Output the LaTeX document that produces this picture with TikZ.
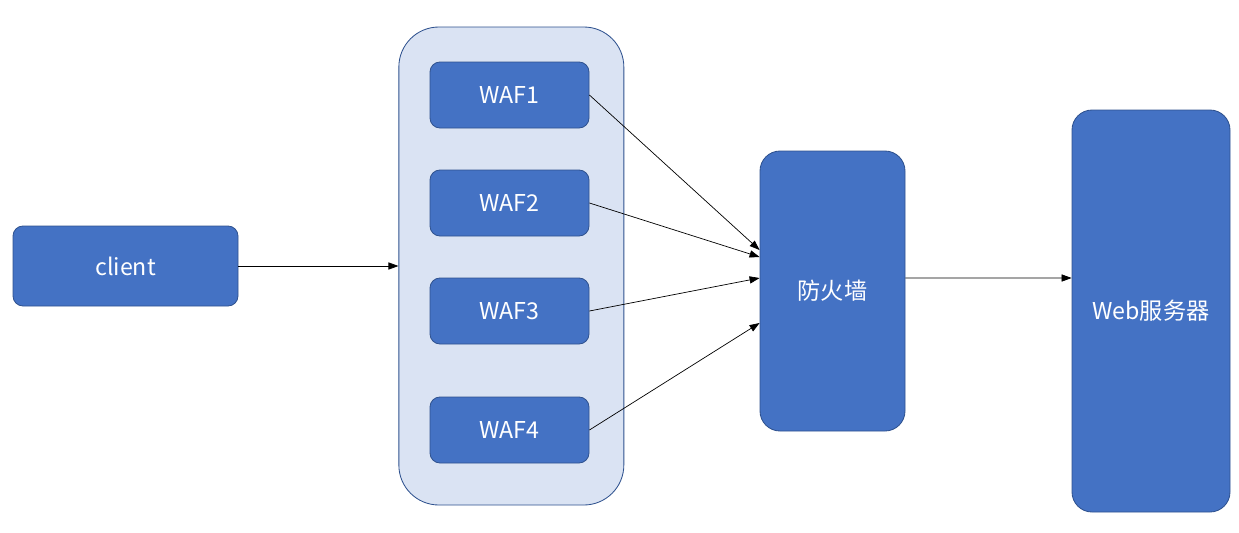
\documentclass[tikz,border=0pt]{standalone}
\usepackage{fontspec}
\setmainfont{Noto Sans CJK SC}
\usetikzlibrary{positioning,arrows.meta}

\definecolor{boxblue}{HTML}{4472C4}
\definecolor{edgeblue}{HTML}{2F528F}
\definecolor{paleblue}{HTML}{DAE3F3}

\tikzset{
  block/.style={draw=edgeblue, fill=boxblue, text=white, line width=0.6pt,
    rounded corners=0.25cm, inner sep=0pt, font=\fontsize{16.5}{18}\selectfont},
  group/.style={draw=edgeblue, fill=paleblue, line width=0.6pt,
    rounded corners=1cm, inner sep=0pt},
  link/.style={-{Triangle[length=0.25cm,width=0.18cm]}, line width=0.5pt}
}

\begin{document}
\begin{tikzpicture}

  \useasboundingbox (0,0) rectangle (30.975,-13.3);

  % Define nodes
  \node[block, minimum width=5.625cm, minimum height=2cm] (client) at (3.1375,-6.65) {client};
  \node[group, minimum width=5.625cm, minimum height=11.95cm, right=4cm of client] (pool) {};
  \node[block, minimum width=3.975cm, minimum height=1.65cm] (waf1) at (12.7375,-2.375) {WAF1};
  \node[block, minimum width=3.975cm, minimum height=1.65cm] (waf2) at (12.7375,-5.075) {WAF2};
  \node[block, minimum width=3.975cm, minimum height=1.65cm] (waf3) at (12.7375,-7.775) {WAF3};
  \node[block, minimum width=3.975cm, minimum height=1.65cm] (waf4) at (12.7375,-10.75) {WAF4};
  \node[block, minimum width=3.625cm, minimum height=7cm, rounded corners=0.5cm] (fw) at (20.8125,-7.275) {防火墙};
  \node[block, minimum width=3.95cm, minimum height=10.05cm, rounded corners=0.5cm] (web) at (28.775,-7.775) {Web服务器};

  % Connect the nodes
  \draw[link] (client.east) -- (pool.west);
  \draw[link] (waf1.east) -- ([yshift=1.025cm]fw.west);
  \draw[link] (waf2.east) -- ([yshift=0.85cm]fw.west);
  \draw[link] (waf3.east) -- ([yshift=0.325cm]fw.west);
  \draw[link] (waf4.east) -- ([yshift=-0.8cm]fw.west);
  \draw[link] ([yshift=0.325cm]fw.east) -- ([yshift=0.825cm]web.west);

\end{tikzpicture}
\end{document}
